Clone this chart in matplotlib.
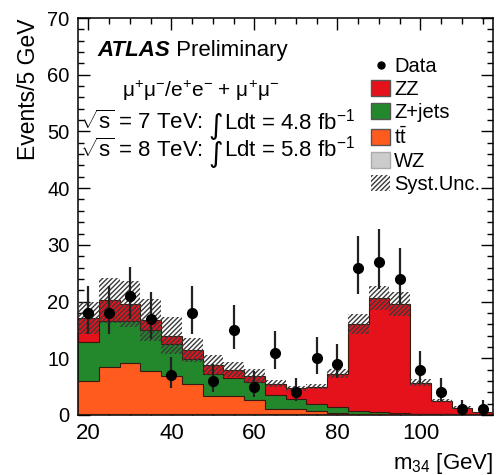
import numpy as np
import matplotlib
matplotlib.use("Agg")
import matplotlib.pyplot as plt
from matplotlib.patches import Patch
from matplotlib.lines import Line2D

plt.rcParams['font.family'] = ['Liberation Sans', 'DejaVu Sans']
plt.rcParams['mathtext.fontset'] = 'custom'
plt.rcParams['mathtext.rm'] = 'Liberation Sans'
plt.rcParams['mathtext.it'] = 'Liberation Sans:italic'
plt.rcParams['mathtext.bf'] = 'Liberation Sans:bold'
plt.rcParams['hatch.linewidth'] = 1.0

# bins of m34 (GeV), 5 GeV wide
m34 = [20, 25, 30, 35, 40, 45, 50, 55, 60, 65, 70, 75, 80, 85, 90, 95, 100, 105, 110, 115]
bin_width = 5

# stacked backgrounds (bottom -> top)
wz = [0.1, 0.1, 0.1, 0.1, 0.1, 0.1, 0.1, 0.1, 0.1, 0.1,
      0.1, 0.1, 0.1, 0.15, 0.2, 0.2, 0.1, 0.1, 0.05, 0.05]
ttbar = [5.9, 8.3, 9.0, 7.7, 6.8, 5.4, 3.3, 3.3, 2.5, 1.0,
         0.9, 0.6, 0.3, 0.1, 0.05, 0.05, 0.02, 0.02, 0.0, 0.0]
zjets = [6.8, 8.2, 7.4, 7.2, 5.6, 4.4, 3.9, 3.1, 3.3, 2.4,
         1.8, 1.3, 1.0, 0.45, 0.2, 0.15, 0.1, 0.1, 0.05, 0.05]
zz = [4.3, 3.6, 3.1, 1.8, 1.5, 1.6, 1.5, 1.5, 1.0, 2.0,
      1.9, 3.0, 5.9, 15.3, 20.15, 19.2, 5.5, 2.3, 1.2, 0.4]
syst = [2.8, 4.0, 4.0, 3.7, 3.2, 2.1, 1.8, 1.3, 1.2, 0.6,
        0.5, 0.5, 0.8, 1.8, 2.1, 2.1, 0.6, 0.3, 0.2, 0.1]

data = [18, 18, 21, 17, 7, 18, 6, 15, 5, 11, 4, 10, 9, 26, 27, 24, 8, 4, 1, 1]

c_zz = '#e5111b'
c_zj = '#23882b'
c_tt = '#ff5b1f'
c_wz = '#cccccc'

centers = np.array(m34, dtype=float)
edges = np.append(centers - bin_width / 2, centers[-1] + bin_width / 2)

fig = plt.figure(figsize=(4.96, 4.75), dpi=100)
ax = fig.add_axes([78 / 496, 60 / 475, 415 / 496, 397 / 475])

# stack
layers = [(wz, c_wz), (ttbar, c_tt), (zjets, c_zj), (zz, c_zz)]
base = np.zeros(len(centers))
for vals, col in layers:
    top = base + np.array(vals)
    ax.stairs(top, edges, baseline=base.copy(), fill=True, color=col, zorder=2)
    ax.stairs(top, edges, baseline=None, color='#3a1a10', lw=0.8, zorder=3)
    base = top
total = base

# syst band
ax.bar(centers, 2 * np.array(syst), bottom=total - np.array(syst), width=bin_width,
       fill=False, hatch='///////', edgecolor='#3a3a3a', linewidth=0, zorder=4)

# data with poisson-ish errors
d = np.array(data, dtype=float)
err_up = 0.5 + np.sqrt(d + 0.25)
err_dn = np.sqrt(d + 0.25) - 0.5
ax.errorbar(centers, d, yerr=[err_dn, err_up], fmt='o', color='black', ms=7,
            elinewidth=1.6, ecolor='#222222', capsize=0, zorder=6)

ax.set_xlim(17.5, 117.5)
ax.set_ylim(0, 70)
ax.set_xticks([20, 40, 60, 80, 100])
ax.set_xticks(np.arange(20, 117, 5), minor=True)
ax.set_yticks(np.arange(0, 71, 10))
ax.set_yticks(np.arange(0, 71, 2), minor=True)
ax.tick_params(which='both', direction='in', top=True, right=True, width=1)
ax.tick_params(which='major', length=8.5)
ax.tick_params(which='minor', length=4.5)
ax.tick_params(axis='y', pad=6, labelsize=14.5)
ax.tick_params(axis='x', pad=6, labelsize=16)
for s in ax.spines.values():
    s.set_linewidth(1.1)

ax.set_ylabel('Events/5 GeV', fontsize=16.5, loc='top', labelpad=5)
ax.set_xlabel(r'm$_{34}$ [GeV]', fontsize=16, loc='right', labelpad=5)

# labels
fs = 16
t = ax.text(0.046, 0.892, 'ATLAS', transform=ax.transAxes, fontsize=fs,
            fontweight='bold', fontstyle='italic', va='bottom')
ax.annotate(' Preliminary', xy=(1, 0), xycoords=t, va='bottom', fontsize=fs)
ax.text(0.106, 0.80, 'μ$^{+}$μ$^{-}$/e$^{+}$e$^{-}$ + μ$^{+}$μ$^{-}$', transform=ax.transAxes,
        fontsize=15, va='baseline')

for yy, energy, lumi in [(0.72, '7', '4.8'), (0.65, '8', '5.8')]:
    p1 = ax.text(0.005, yy, r'$\sqrt{\mathrm{s}}$ = ' + energy + ' TeV:', transform=ax.transAxes,
                 fontsize=fs, va='baseline')
    p2 = ax.annotate('∫', xy=(1, 0.0), xycoords=p1, fontsize=fs + 4, va='bottom',
                     family='DejaVu Sans', xytext=(4, -4), textcoords='offset points')
    ax.annotate('Ldt = ' + lumi + ' fb$^{-1}$', xy=(1, 0), xycoords=(p2, p1), va='bottom',
                fontsize=fs, xytext=(0.3, 0), textcoords='offset points')

handles = [
    Line2D([], [], marker='o', color='black', ls='none', ms=5),
    Patch(facecolor=c_zz, edgecolor='#555555'),
    Patch(facecolor=c_zj, edgecolor='#555555'),
    Patch(facecolor=c_tt, edgecolor='#555555'),
    Patch(facecolor=c_wz, edgecolor='#aaaaaa'),
    Patch(facecolor='white', edgecolor='#3a3a3a', hatch='///////', lw=0),
]
labels = ['Data', 'ZZ', 'Z+jets', r'$\mathregular{t\bar{t}}$', 'WZ', 'Syst.Unc.']
ax.legend(handles, labels, loc='upper left', bbox_to_anchor=(0.706, 0.902), frameon=False,
          fontsize=14.5, handlelength=0.95, handleheight=0.8, labelspacing=0.2,
          handletextpad=0.2, borderpad=0, borderaxespad=0)

fig.savefig('out.png', dpi=100)
